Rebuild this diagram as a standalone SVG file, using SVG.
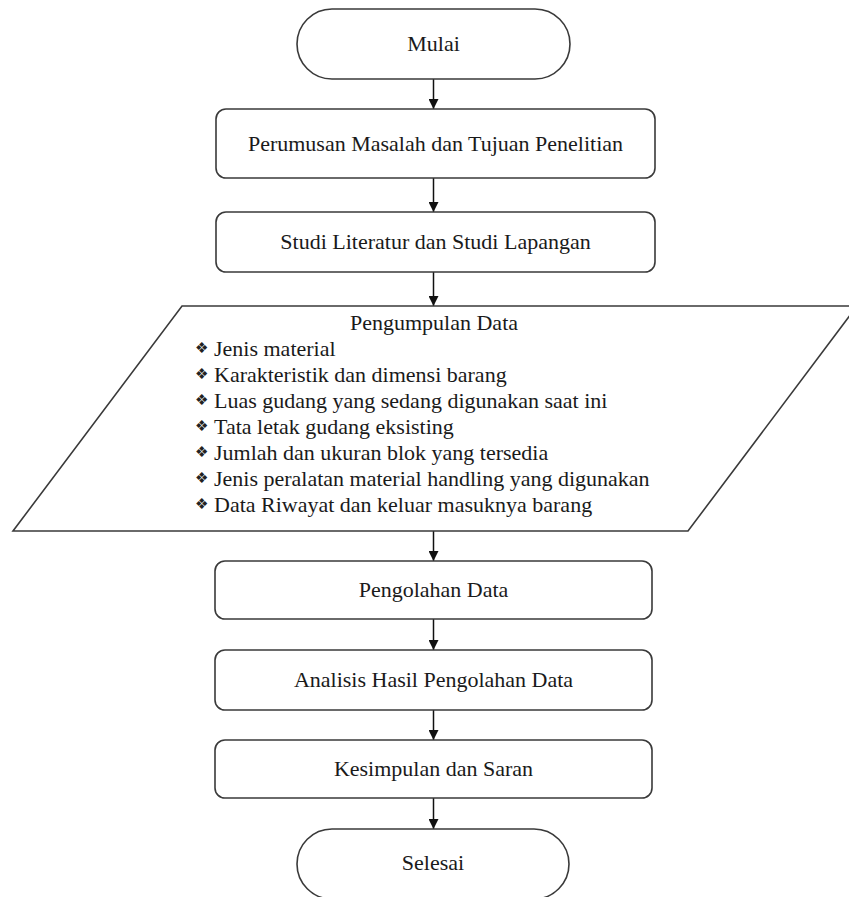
<svg xmlns="http://www.w3.org/2000/svg" width="849" height="897" viewBox="0 0 849 897">
<style>
.shape{fill:#fff;stroke:#3a3a3a;stroke-width:1.6}
.lbl{font-family:"Liberation Serif","Times New Roman",serif;font-size:22px;fill:#1a1a1a;text-anchor:middle}
.item{font-family:"Liberation Serif","Times New Roman",serif;font-size:22px;fill:#1a1a1a}
.bul{font-family:"DejaVu Sans",sans-serif;font-size:15px;fill:#222}
.conn{stroke:#111;stroke-width:1.5;fill:none;marker-end:url(#ah)}
</style>
<defs>
<marker id="ah" viewBox="0 0 10 10" refX="10" refY="5" markerWidth="10" markerHeight="10" markerUnits="userSpaceOnUse" orient="auto">
<path d="M0,0 L10,5 L0,10 z" fill="#111"/>
</marker>
</defs>
<rect width="849" height="897" fill="#fff"/>
<g id="connectors">
<line class="conn" x1="433.5" y1="79" x2="433.5" y2="109"/>
<line class="conn" x1="433.5" y1="178" x2="433.5" y2="212"/>
<line class="conn" x1="433.5" y1="272" x2="433.5" y2="306"/>
<line class="conn" x1="433.5" y1="531" x2="433.5" y2="561"/>
<line class="conn" x1="433.5" y1="619" x2="433.5" y2="650"/>
<line class="conn" x1="433.5" y1="710" x2="433.5" y2="740"/>
<line class="conn" x1="433.5" y1="798" x2="433.5" y2="829"/>
</g>
<g id="mulai">
<rect class="shape" x="297" y="9" width="273" height="70" rx="35" ry="35"/>
<text class="lbl" x="433.5" y="51">Mulai</text>
</g>
<g id="perumusan">
<rect class="shape" x="216" y="109" width="439" height="69" rx="10" ry="10"/>
<text class="lbl" x="435.5" y="151">Perumusan Masalah dan Tujuan Penelitian</text>
</g>
<g id="studi">
<rect class="shape" x="216" y="212" width="439" height="60" rx="10" ry="10"/>
<text class="lbl" x="435.5" y="249">Studi Literatur dan Studi Lapangan</text>
</g>
<g id="pengumpulan">
<polygon class="shape" points="182,306 857,306 688,531 13,531"/>
<text class="lbl" x="434" y="330">Pengumpulan Data</text>
<text class="bul" x="195" y="353">❖</text><text class="item" x="214" y="356">Jenis material</text>
<text class="bul" x="195" y="379">❖</text><text class="item" x="214" y="382">Karakteristik dan dimensi barang</text>
<text class="bul" x="195" y="405">❖</text><text class="item" x="214" y="408">Luas gudang yang sedang digunakan saat ini</text>
<text class="bul" x="195" y="431">❖</text><text class="item" x="214" y="434">Tata letak gudang eksisting</text>
<text class="bul" x="195" y="457">❖</text><text class="item" x="214" y="460">Jumlah dan ukuran blok yang tersedia</text>
<text class="bul" x="195" y="483">❖</text><text class="item" x="214" y="486">Jenis peralatan material handling yang digunakan</text>
<text class="bul" x="195" y="509">❖</text><text class="item" x="214" y="512">Data Riwayat dan keluar masuknya barang</text>
</g>
<g id="pengolahan">
<rect class="shape" x="215" y="561" width="437" height="58" rx="10" ry="10"/>
<text class="lbl" x="433.5" y="597">Pengolahan Data</text>
</g>
<g id="analisis">
<rect class="shape" x="215" y="650" width="437" height="60" rx="10" ry="10"/>
<text class="lbl" x="433.5" y="687">Analisis Hasil Pengolahan Data</text>
</g>
<g id="kesimpulan">
<rect class="shape" x="215" y="740" width="437" height="58" rx="10" ry="10"/>
<text class="lbl" x="433.5" y="776">Kesimpulan dan Saran</text>
</g>
<g id="selesai">
<rect class="shape" x="297" y="829" width="272" height="70" rx="35" ry="35"/>
<text class="lbl" x="433" y="870">Selesai</text>
</g>
</svg>
